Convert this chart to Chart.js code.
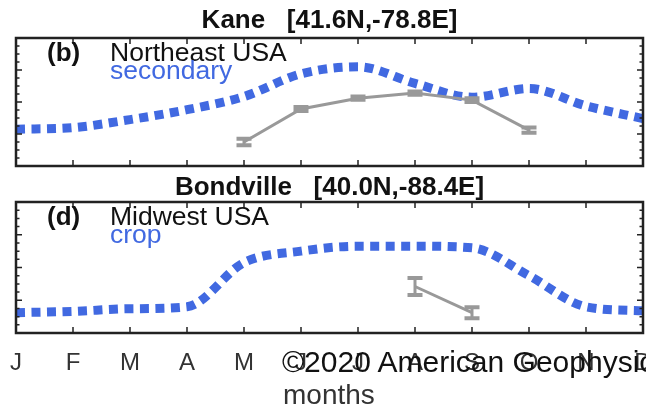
<!DOCTYPE html>
<html>
<head>
<meta charset="utf-8">
<script src="https://cdn.jsdelivr.net/npm/chart.js@4.4.1/dist/chart.umd.min.js"></script>
<style>
  body { margin: 0; width: 646px; height: 413px; overflow: hidden; background: #fff; position: relative;
         font-family: "Liberation Sans", Arial, Helvetica, sans-serif; }
  canvas { position: absolute; left: 0; }
  .txt { position: absolute; white-space: nowrap; line-height: 1; }
  .title { left: 0; width: 659px; text-align: center; font-weight: bold; font-size: 26px; color: #111; }
  .tag { font-weight: bold; font-size: 26px; color: #111; left: 47px; }
  .region { font-size: 26.5px; color: #111; left: 110px; }
  .kind { font-size: 26.5px; color: #4169e1; left: 110px; }
</style>
</head>
<body>
<canvas id="kaneChart" width="646" height="175" style="top:0"></canvas>
<canvas id="bondChart" width="646" height="238" style="top:175px"></canvas>

<div class="txt title" style="top:6px">Kane&nbsp;&nbsp;&nbsp;[41.6N,-78.8E]</div>
<div class="txt tag" style="top:39px">(b)</div>
<div class="txt region" style="top:39px">Northeast USA</div>
<div class="txt kind" style="top:57px">secondary</div>

<div class="txt title" style="top:173px">Bondville&nbsp;&nbsp;&nbsp;[40.0N,-88.4E]</div>
<div class="txt tag" style="top:203px">(d)</div>
<div class="txt region" style="top:203px">Midwest USA</div>
<div class="txt kind" style="top:221px">crop</div>

<div class="txt" style="left:282px; top:347px; font-size:30px; color:#111">©2020 American Geophysical Union</div>
<div class="txt" style="left:283px; top:381px; font-size:28px; color:#333">months</div>

<script>
'use strict';

const months = ['J', 'F', 'M', 'A', 'M', 'J', 'J', 'A', 'S', 'O', 'N', 'D'];

// Kane (b)
const kaneModel = [1.15, 1.2, 1.45, 1.76, 2.17, 2.88, 3.1, 2.58, 2.15, 2.42, 1.88, 1.48];
const kaneObs   = [null, null, null, null, 0.75, 1.78, 2.12, 2.28, 2.06, 1.12, null, null];
const kaneErr   = [0, 0, 0, 0, 0.1, 0.06, 0.05, 0.05, 0.06, 0.08, 0, 0];

// Bondville (d)
const bondModel = [0.62, 0.66, 0.74, 0.8, 2.15, 2.5, 2.65, 2.65, 2.6, 1.75, 0.8, 0.68];
const bondObs   = [null, null, null, null, null, null, null, 1.42, 0.62, null, null, null];
const bondErr   = [0, 0, 0, 0, 0, 0, 0, 0.26, 0.17, 0, 0, 0];

const yTicks = [0, 1, 2, 3, 4];

// frame, inward ticks, error bars, month labels
const framePlugin = {
  id: 'frame',
  afterDatasetsDraw(chart, args, opts) {
    const { ctx, chartArea: a, scales: { x, y } } = chart;
    ctx.save();

    // error bars
    ctx.strokeStyle = '#999';
    ctx.lineWidth = 3;
    opts.obs.forEach((v, i) => {
      if (v === null) return;
      const px = x.getPixelForValue(i);
      const hi = y.getPixelForValue(v + opts.err[i]);
      const lo = y.getPixelForValue(v - opts.err[i]);
      ctx.beginPath();
      ctx.moveTo(px, hi); ctx.lineTo(px, lo);
      ctx.stroke();
      ctx.lineWidth = 4;
      ctx.beginPath();
      ctx.moveTo(px - 7.5, hi); ctx.lineTo(px + 7.5, hi);
      ctx.moveTo(px - 7.5, lo); ctx.lineTo(px + 7.5, lo);
      ctx.stroke();
      ctx.lineWidth = 3;
    });

    ctx.strokeStyle = '#222';
    ctx.lineWidth = 2.5;
    ctx.strokeRect(a.left, a.top, a.right - a.left, a.bottom - a.top);

    ctx.lineWidth = 1.5;
    ctx.beginPath();
    months.forEach((m, i) => {
      const px = x.getPixelForValue(i);
      ctx.moveTo(px, a.bottom); ctx.lineTo(px, a.bottom - 6);
      ctx.moveTo(px, a.top); ctx.lineTo(px, a.top + 6);
    });
    for (let v = yTicks[0]; v <= yTicks[yTicks.length - 1] + 1e-6; v += 0.25) {
      const py = y.getPixelForValue(v);
      const len = Number.isInteger(v) ? 6 : 3.5;
      ctx.moveTo(a.left, py); ctx.lineTo(a.left + len, py);
      ctx.moveTo(a.right, py); ctx.lineTo(a.right - len, py);
    }
    ctx.stroke();

    if (opts.labels) {
      ctx.fillStyle = '#333';
      ctx.font = '24px "Liberation Sans", Arial, sans-serif';
      ctx.textAlign = 'center';
      ctx.textBaseline = 'alphabetic';
      months.forEach((m, i) => {
        ctx.fillText(m, x.getPixelForValue(i), a.bottom + 37);
      });
    }
    ctx.restore();
  }
};

function makeChart(id, model, obs, err, padding, labels) {
  return new Chart(document.getElementById(id), {
    type: 'line',
    data: {
      labels: months,
      datasets: [{
        data: obs,
        borderColor: '#999',
        borderWidth: 3,
        pointRadius: 0,
        tension: 0,
        spanGaps: false
      },
      {
        data: model,
        borderColor: '#4169e1',
        borderWidth: 9,
        borderDash: [9, 6.5],
        borderCapStyle: 'butt',
        pointRadius: 0,
        cubicInterpolationMode: 'monotone'
      }]
    },
    options: {
      responsive: false,
      animation: false,
      layout: { padding: padding },
      plugins: {
        legend: { display: false },
        tooltip: { enabled: false },
        frame: { obs: obs, err: err, labels: labels }
      },
      scales: {
        x: { display: false, offset: false },
        y: { display: false, min: yTicks[0], max: yTicks[yTicks.length - 1] }
      }
    },
    plugins: [framePlugin]
  });
}

const kaneChart = makeChart('kaneChart', kaneModel, kaneObs, kaneErr,
  { left: 16, right: 3, top: 38, bottom: 9 }, false);
const bondChart = makeChart('bondChart', bondModel, bondObs, bondErr,
  { left: 16, right: 3, top: 27, bottom: 80 }, true);
</script>
</body>
</html>
